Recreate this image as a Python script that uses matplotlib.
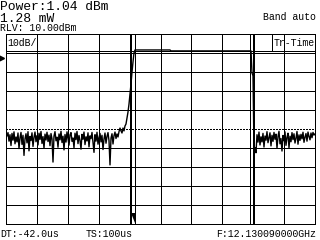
import numpy as np
import matplotlib
matplotlib.use("Agg")
import matplotlib.pyplot as plt

# sweep: 100 us over 309 samples, level in dBm (10 dB/div, top of screen 20 dBm)
DT_US = 100 / 309

noise_left = [
    -33.6, -31.9, -36.4, -33.0, -38.7, -32.3, -35.9, -31.5, -37.8, -34.2,
    -36.8, -32.1, -40.3, -34.6, -31.8, -38.1, -33.3, -43.9, -35.2, -32.5,
    -37.3, -31.4, -41.5, -33.9, -36.1, -32.0, -39.2, -34.4, -31.6, -36.7,
    -33.5, -38.4, -32.2, -35.5, -31.3, -37.6, -34.0, -40.2, -32.7, -35.8,
    -31.7, -36.6, -33.2, -38.8, -32.4, -35.2, -47.4, -33.7, -31.4, -36.2,
    -34.3, -39.6, -32.6, -35.7, -31.2, -37.1, -33.8, -41.0, -32.9, -36.9,
    -31.5, -35.0, -38.5, -33.1, -31.9, -36.5, -34.7, -39.9, -32.2, -35.6,
    -31.3, -37.7, -33.4, -36.0, -40.6, -32.8, -35.4, -31.6, -38.2, -34.1,
    -36.3, -32.0, -39.4, -33.6, -35.1, -31.8, -37.0, -42.3, -33.0, -36.4,
    -31.7, -38.0, -34.5, -32.3, -36.8, -33.3, -40.8, -35.3, -32.1, -37.5,
    -33.9, -31.9, -36.1, -48.9, -34.8, -32.5, -37.9, -33.5, -31.6, -35.0,
    -32.6, -34.2, -31.4, -29.5, -31.0,
]

# rising edge, pulse top and falling edge (time us, level dBm)
edge_t = [37.54, 37.86, 38.19, 38.51, 38.83, 39.16, 39.48, 39.81, 40.13, 40.45,
          40.78, 41.10, 41.42, 41.75, 53.07, 53.40, 79.29, 79.61, 79.94, 80.26]
edge_db = [-32.1, -29.5, -31.0, -28.4, -27.4, -24.2, -21.1, -16.8, -11.6, -6.3,
           0.0, 5.3, 10.0, 11.6, 11.6, 11.1, 11.1, -0.5, -2.0, -41.0]

noise_right = [
    -39.8, -42.5, -33.0, -36.9, -31.6, -38.4, -34.1, -36.8, -32.3, -39.5,
    -33.7, -35.9, -31.4, -37.2, -34.6, -32.0, -38.9, -33.3, -36.5, -31.8,
    -35.4, -32.7, -40.1, -34.0, -31.2, -37.8, -35.0, -41.6, -33.4, -36.2,
    -31.5, -38.6, -34.4, -32.2, -39.9, -33.8, -36.7, -31.9, -35.6, -32.5,
    -37.4, -34.9, -31.3, -38.0, -33.1, -36.0, -32.8, -35.2, -31.7, -37.0,
    -34.3, -32.4, -36.4, -31.6, -33.9, -35.7, -32.1, -34.6, -31.8, -33.2, -32.6,
]
right_start_us = 80.58

ref_line_db = 11.05
threshold_db = -30
ref_arrow_db = 7.4
markers_us = [41.1, 79.6]

t_left = (np.arange(len(noise_left)) + 1) * DT_US
t_right = right_start_us + np.arange(len(noise_right)) * DT_US
t = np.concatenate([t_left, edge_t, t_right])
level = np.concatenate([noise_left, edge_db, noise_right])

fig = plt.figure(figsize=(3.2, 2.4), dpi=100)
ax = fig.add_axes([6 / 320, 16 / 240, 309 / 320, 190 / 240])
ax.set_xlim(0, 100)
ax.set_ylim(-80, 20)
ax.set_xticks([])
ax.set_yticks([])
for s in ax.spines.values():
    s.set_linewidth(0.72)
    s.set_color("black")
    s.set_antialiased(False)

crisp = dict(color="black", lw=0.72, antialiased=False)

# graticule (the -30 dB line is replaced by the dotted threshold)
for x in range(10, 100, 10):
    ax.axvline(x, **crisp)
for y in range(10, -80, -10):
    if y != threshold_db:
        ax.axhline(y, **crisp)
ax.axhline(ref_line_db, **crisp)
ax.axhline(threshold_db, color="black", lw=0.72, ls=(0, (2, 2)), antialiased=False)
ax.plot([86.1, 86.1], [ref_line_db, 20], **crisp)

# markers: double lines with a triangle at the bottom
for m in markers_us:
    ax.axvline(m - 0.65, **crisp)
    ax.axvline(m + 0.65, **crisp)
m = markers_us[0]
ax.fill([m - 0.65, m + 0.65, m + 0.65], [-74.2, -74.2, -79.5], color="black", lw=0)

ax.plot(t, level, color="black", lw=1.0)
ax.plot(-1.6, ref_arrow_db, marker=">", color="black", ms=4.5, clip_on=False)

big = dict(family="Liberation Mono", fontsize=9.4, color="black")
small = dict(family="Liberation Mono", fontsize=7.1, color="black")

def put(x, y, s, props, ha="left"):
    fig.text(x / 320, 1 - y / 240, s, ha=ha, va="baseline", **props)

put(0, 10.5, "Power:1.04 dBm", big)
put(0, 21.5, "1.28 mW", big)
put(0, 31, "RLV: 10.00dBm", small)
put(316, 20.5, "Band auto", small, ha="right")
put(7, 45.5, "10dB/", small)
put(315, 45.5, "Tr-Time", small, ha="right")
put(0, 237, "DT:-42.0us", small)
put(86, 237, "TS:100us", small)
put(316, 237, "F:12.130090000GHz", small, ha="right")

fig.savefig("out.png", dpi=100)
